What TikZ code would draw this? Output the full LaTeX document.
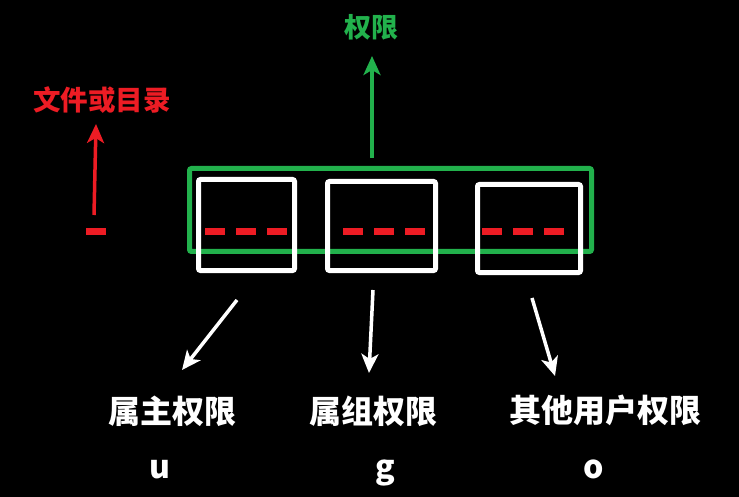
\documentclass[tikz,border=0pt]{standalone}
\usepackage{fontspec}
\newfontfamily\cjk{Noto Sans CJK SC}
\usetikzlibrary{arrows.meta}
\definecolor{permred}{RGB}{237,28,36}
\definecolor{permgreen}{RGB}{34,177,76}
\tikzset{
  permbox/.style={draw=white, line width=5pt, rounded corners=2pt, inner sep=0pt},
  permframe/.style={draw=permgreen, line width=5pt, rounded corners=2pt, inner sep=0pt},
  bits/.style={draw=permred, line width=7pt, dash pattern=on 20pt off 11pt},
  pointer/.style={line width=3.5pt, -{Stealth[length=19pt, width=17pt, inset=5pt]}},
  title/.style={inner sep=0pt, font=\cjk\bfseries\fontsize{32}{32}\selectfont, text=white},
  letter/.style={inner sep=0pt, anchor=base, font=\cjk\bfseries\fontsize{32}{32}\selectfont, text=white},
}
\begin{document}
\begin{tikzpicture}[x=1pt, y=-1pt]
      \fill[black] (0,0) rectangle (739,497);
      \useasboundingbox (0,0) rectangle (739,497);

      \node[permframe, minimum width=402pt, minimum height=83pt] (frame) at (390.5,210) {};
      \node[permbox, minimum width=96pt, minimum height=91pt] (owner) at (246.5,225) {};
      \node[permbox, minimum width=108pt, minimum height=89pt] (group) at (381.5,226) {};
      \node[permbox, minimum width=103pt, minimum height=88pt] (other) at (529,228.5) {};

      % rwx placeholders
      \draw[bits] (205,232) -- (287,232);
      \draw[bits] (343,232) -- (426,232);
      \draw[bits] (482,232) -- (565,232);
      \draw[draw=permred, line width=7pt] (86,232) -- (106,232);

      \node[title, text=permred, font=\cjk\bfseries\fontsize{27.5}{27.5}\selectfont] (type) at (102,100) {文件或目录};
      \node[title, text=permgreen, font=\cjk\bfseries\fontsize{27}{27}\selectfont] (perm) at (371,27) {权限};
      \node[title] (ownertext) at (172,411) {属主权限};
      \node[title] (grouptext) at (373,411) {属组权限};
      \node[title] (othertext) at (605,410) {其他用户权限};
      \node[letter] (u) at (160,478) {u};
      \node[letter] (g) at (385,478) {g};
      \node[letter] (o) at (594,478) {o};

      \coordinate (typefrom) at (94,215);
      \coordinate (typeto) at (96,124);
      \coordinate (permfrom) at (372,158);
      \coordinate (permto) at (372,56);
      \coordinate (ownerfrom) at (237,300);
      \coordinate (ownerto) at (182,370);
      \coordinate (groupfrom) at (373,290);
      \coordinate (groupto) at (369,373);
      \coordinate (otherfrom) at (532,298);
      \coordinate (otherto) at (555,376);

      \draw[pointer, permred] (typefrom) -- (typeto);
      \draw[pointer, permgreen] (permfrom) -- (permto);
      \draw[pointer, white] (ownerfrom) -- (ownerto);
      \draw[pointer, white] (groupfrom) -- (groupto);
      \draw[pointer, white] (otherfrom) -- (otherto);
    \end{tikzpicture}
\end{document}
